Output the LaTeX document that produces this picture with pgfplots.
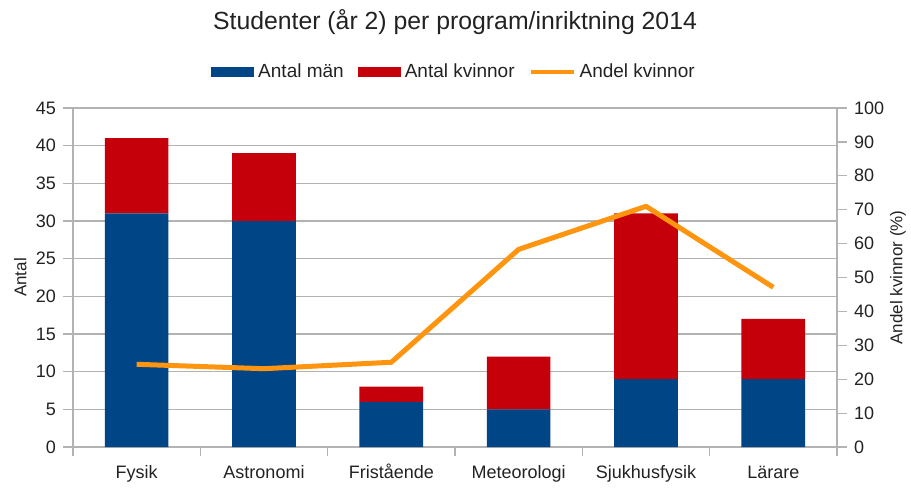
\documentclass[border=0pt]{standalone}
\usepackage{fontspec}
\setmainfont{Liberation Sans}
\usepackage{pgfplots}
\pgfplotsset{compat=1.18}
\definecolor{cblue}{HTML}{004586}
\definecolor{cred}{HTML}{C5000B}
\definecolor{corange}{HTML}{FF950E}
\definecolor{cgrid}{HTML}{B3B3B3}
\definecolor{ctext}{HTML}{222222}

\pgfplotsset{
  common/.style={
    scale only axis, width=382pt, height=169.5pt,
    at={(0,0)}, anchor=south west,
    xmin=-0.5, xmax=5.5,
    /pgf/number format/assume math mode=true,
    tick label style={font=\fontsize{9}{10}\selectfont, text=ctext},
    label style={font=\fontsize{8.5}{10}\selectfont, text=ctext},
    axis line style={cgrid, line width=0.6pt},
    tick style={cgrid, line width=0.6pt},
    tick align=outside, major tick length=5pt,
  }
}

\begin{document}
\begin{tikzpicture}
\path[use as bounding box] (-36.5pt,-21pt) rectangle (419pt,223.5pt);

\begin{axis}[common,
  ybar stacked, bar width=0.5,
  ymin=0, ymax=45, ytick={0,5,...,45},
  axis lines*=left,
  ymajorgrids, grid style={cgrid, line width=0.6pt},
  xtick={0,...,5},
  xticklabels={Fysik,Astronomi,Fristående,Meteorologi,Sjukhusfysik,Lärare},
  xticklabel style={text height=7pt, text depth=2pt},
  major x tick style={draw=none},
  minor xtick={-0.5,0.5,...,5.5}, minor tick length=4.5pt,
  ylabel={Antal},
  ylabel style={at={(axis description cs:-0.069,0.5)}, anchor=center},
  legend style={at={(axis description cs:0.5,1.106)}, anchor=center, draw=none,
    fill=none, font=\fontsize{9.5}{11}\selectfont, text=ctext,
    legend columns=3, /tikz/every even column/.append style={column sep=5pt}},
]
\addplot[fill=cblue, draw=none,
  legend image code/.code={\fill[cblue] (0pt,-2.5pt) rectangle (21.5pt,2.5pt);}]
  coordinates {(0,31) (1,30) (2,6) (3,5) (4,9) (5,9)};
\addlegendentry{Antal män}
\addplot[fill=cred, draw=none,
  legend image code/.code={\fill[cred] (0pt,-2.5pt) rectangle (21.5pt,2.5pt);}]
  coordinates {(0,10) (1,9) (2,2) (3,7) (4,22) (5,8)};
\addlegendentry{Antal kvinnor}
\addlegendimage{corange, line width=2pt,
  legend image code/.code={\draw[corange, line width=2pt] (0pt,0pt) -- (21.5pt,0pt);}}
\addlegendentry{Andel kvinnor}
\end{axis}

\begin{axis}[common,
  ymin=0, ymax=100, ytick={0,10,...,100},
  axis y line*=right, axis x line=none,
  ylabel={Andel kvinnor (\%)},
  ylabel style={at={(axis description cs:1.0798,0.5)}, anchor=center},
]
\addplot[corange, line width=2.5pt, line join=round, mark=none]
  coordinates {(0,24.4) (1,23.1) (2,25) (3,58.3) (4,71) (5,47.1)};
\end{axis}

\node[font=\fontsize{12.4}{14}\selectfont, text=ctext] at (191pt,212.5pt)
  {Studenter (år 2) per program/inriktning 2014};
\end{tikzpicture}
\end{document}
